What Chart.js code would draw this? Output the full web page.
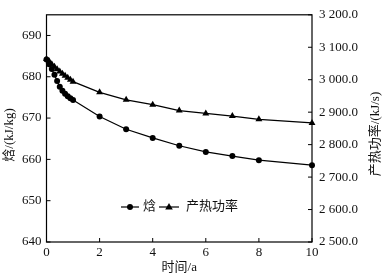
<!DOCTYPE html>
<html>
<head>
<meta charset="utf-8">
<style>
  html, body { margin: 0; padding: 0; background: #fff; }
  #chart { display: block; }
</style>
<script src="https://cdn.jsdelivr.net/npm/chart.js@4"></script>
</head>
<body>
<canvas id="chart" width="385" height="278"></canvas>
<script>
// time in years
const timeYears = [0, 0.1, 0.2, 0.3, 0.4, 0.5, 0.6, 0.7, 0.8, 0.9, 1, 2, 3, 4, 5, 6, 7, 8, 10];
// enthalpy, kJ/kg (left axis)
const enthalpy = [684.2, 683.0, 681.9, 680.5, 679.0, 677.6, 676.6, 675.9, 675.3, 674.8, 674.4,
                  670.4, 667.3, 665.2, 663.3, 661.8, 660.8, 659.8, 658.6];
// heat production power, kJ/s (right axis)
const heatPower = [3064, 3057, 3048, 3040, 3032, 3025, 3018, 3012, 3006, 3000, 2994,
                   2961, 2938, 2923, 2905, 2896, 2888, 2878, 2867];

const timeTicks = [0, 2, 4, 6, 8, 10];
const enthalpyTicks = [640, 650, 660, 670, 680, 690];
const powerTicks = [2500, 2600, 2700, 2800, 2900, 3000, 3100, 3200];

const seriesNames = ['焓', '产热功率'];
const xTitle = '时间/a';
const yLeftTitle = '焓/(kJ/kg)';
const yRightTitle = '产热功率/(kJ/s)';

const FONT = '"Liberation Serif", "Noto Sans CJK SC", serif';

function fmtPower(v) {
    const s = v.toFixed(1);
    const [i, d] = s.split('.');
    return i.replace(/\B(?=(\d{3})+(?!\d))/g, ' ') + '.' + d;
}

function marker(ctx, style, x, y, r) {
    ctx.beginPath();
    if (style === 'circle') {
        ctx.arc(x, y, r, 0, Math.PI * 2);
    } else {
        ctx.moveTo(x, y - r);
        ctx.lineTo(x + r * 0.95, y + r * 0.6);
        ctx.lineTo(x - r * 0.95, y + r * 0.6);
        ctx.closePath();
    }
    ctx.fill();
}

function verticalText(ctx, text, x, y) {
    ctx.save();
    ctx.fillStyle = '#111';
    ctx.font = '13px ' + FONT;
    ctx.textAlign = 'center';
    ctx.textBaseline = 'middle';
    ctx.translate(x, y);
    ctx.rotate(-Math.PI / 2);
    ctx.fillText(text, 0, 0);
    ctx.restore();
}

// frame, inward tick marks, y titles and legend
const decorations = {
    id: 'decorations',
    beforeDatasetsDraw(chart) {
        const { ctx, chartArea: a, scales } = chart;
        ctx.save();
        ctx.strokeStyle = '#000';
        ctx.lineWidth = 1.2;
        ctx.strokeRect(a.left, a.top, a.right - a.left, a.bottom - a.top);
        ctx.lineWidth = 1;
        ctx.beginPath();
        timeTicks.forEach(v => {
            const x = scales.x.getPixelForValue(v);
            ctx.moveTo(x, a.bottom); ctx.lineTo(x, a.bottom - 4);
        });
        enthalpyTicks.forEach(v => {
            const y = scales.y.getPixelForValue(v);
            ctx.moveTo(a.left, y); ctx.lineTo(a.left + 4, y);
        });
        powerTicks.forEach(v => {
            const y = scales.y1.getPixelForValue(v);
            ctx.moveTo(a.right, y); ctx.lineTo(a.right - 4, y);
        });
        ctx.stroke();
        ctx.restore();
    },
    afterDraw(chart) {
        const { ctx } = chart;
        verticalText(ctx, yLeftTitle, 10, 135);
        verticalText(ctx, yRightTitle, 376, 134);

        // legend
        const ly = 207;
        const items = [
            { x0: 121, x1: 139, style: 'circle', r: 3, tx: 143 },
            { x0: 159, x1: 179, style: 'triangle', r: 4, tx: 186 }
        ];
        ctx.save();
        ctx.strokeStyle = '#000';
        ctx.lineWidth = 1.2;
        items.forEach((it, i) => {
            ctx.beginPath();
            ctx.moveTo(it.x0, ly); ctx.lineTo(it.x1, ly);
            ctx.stroke();
            ctx.fillStyle = '#000';
            marker(ctx, it.style, (it.x0 + it.x1) / 2, ly, it.r);
            ctx.fillStyle = '#111';
            ctx.font = '13px ' + FONT;
            ctx.textAlign = 'left';
            ctx.textBaseline = 'middle';
            ctx.fillText(seriesNames[i], it.tx, ly);
        });
        ctx.restore();
    }
};

new Chart(document.getElementById('chart'), {
    type: 'line',
    data: {
        datasets: [
            {
                label: seriesNames[0],
                data: timeYears.map((t, i) => ({ x: t, y: enthalpy[i] })),
                yAxisID: 'y',
                borderColor: '#000',
                backgroundColor: '#000',
                borderWidth: 1.2,
                pointStyle: 'circle',
                pointRadius: 3,
                pointBorderWidth: 0,
                tension: 0,
                clip: false
            },
            {
                label: seriesNames[1],
                data: timeYears.map((t, i) => ({ x: t, y: heatPower[i] })),
                yAxisID: 'y1',
                borderColor: '#000',
                backgroundColor: '#000',
                borderWidth: 1.2,
                pointStyle: 'triangle',
                pointRadius: 4,
                pointBorderWidth: 0,
                tension: 0,
                clip: false
            }
        ]
    },
    options: {
        responsive: false,
        animation: false,
        layout: { padding: { top: 13, left: 0, right: 0, bottom: 0 } },
        plugins: {
            legend: { display: false },
            tooltip: { enabled: false }
        },
        scales: {
            x: {
                type: 'linear',
                min: 0,
                max: 10,
                afterBuildTicks: s => { s.ticks = timeTicks.map(v => ({ value: v })); },
                afterFit: s => { s.height = 36; },
                grid: { display: false, drawTicks: false },
                border: { display: false },
                ticks: { color: '#111', font: { family: FONT, size: 13 }, padding: 3, maxRotation: 0 },
                title: { display: true, text: xTitle, color: '#111', font: { family: FONT, size: 13 }, padding: { top: 0, bottom: 3 } }
            },
            y: {
                type: 'linear',
                position: 'left',
                min: 640,
                max: 695,
                afterBuildTicks: s => { s.ticks = enthalpyTicks.map(v => ({ value: v })); },
                afterFit: s => { s.width = 46.5; },
                grid: { display: false, drawTicks: false },
                border: { display: false },
                ticks: { color: '#111', font: { family: FONT, size: 13 }, padding: 5 }
            },
            y1: {
                type: 'linear',
                position: 'right',
                min: 2500,
                max: 3200,
                afterBuildTicks: s => { s.ticks = powerTicks.map(v => ({ value: v })); },
                afterFit: s => { s.width = 73; },
                grid: { display: false, drawTicks: false },
                border: { display: false },
                ticks: { color: '#111', font: { family: FONT, size: 13 }, padding: 7, callback: v => fmtPower(v) }
            }
        }
    },
    plugins: [decorations]
});
</script>
</body>
</html>
